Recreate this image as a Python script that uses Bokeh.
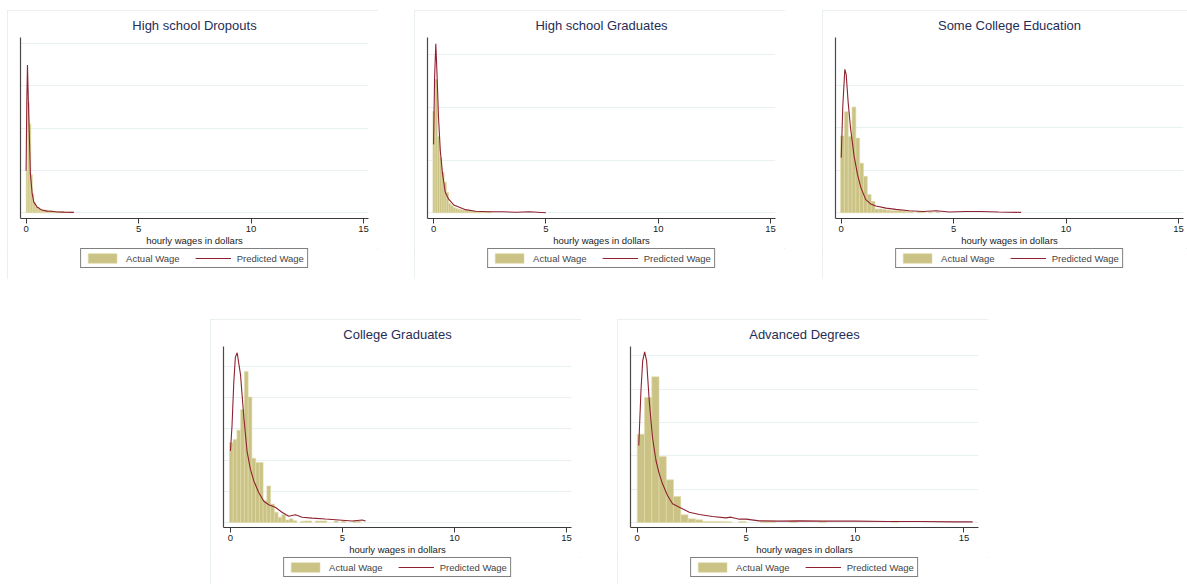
from bokeh.plotting import figure
from bokeh.models import (FixedTicker, Legend, LegendItem, Range1d, Spacer)
from bokeh.layouts import row, column
from bokeh.embed import file_html
from bokeh.resources import INLINE

# ---------------- data (densities) ----------------
titles = ["High school Dropouts", "High school Graduates", "Some College Education",
          "College Graduates", "Advanced Degrees"]
x_ticks = [0, 5, 10, 15]
x_label = "hourly wages in dollars"
legend_labels = ["Actual Wage", "Predicted Wage"]

# histogram: first bin start, bin width, bar heights (density)
dropouts_start, dropouts_width = 0.0, 0.07
dropouts_hist = [2.0, 5.2, 4.2, 1.8, 0.9, 0.5, 0.3, 0.24, 0.2, 0.16, 0.14, 0.14, 0.12, 0.12,
                 0.1, 0.1, 0.1, 0.08, 0.06, 0.06, 0.06, 0.06, 0.06, 0.06,
                 0.04, 0.04, 0.04, 0.04, 0.04, 0.04]
dropouts_kde_x = [0.0, 0.03, 0.06, 0.1, 0.15, 0.19, 0.27, 0.34, 0.45, 0.49, 0.55, 0.64,
                  0.75, 0.93, 1.1, 1.38, 1.7, 2.12]
dropouts_kde_y = [1.98, 5.26, 6.98, 5.26, 3.4, 1.82, 0.9, 0.5, 0.34, 0.26, 0.24, 0.16,
                  0.12, 0.08, 0.07, 0.04, 0.03, 0.02]

hsgrad_start, hsgrad_width = -0.03, 0.1
hsgrad_hist = [1.93, 2.53, 1.45, 1.05, 0.77, 0.58, 0.39, 0.18, 0.14, 0.10, 0.08, 0.07, 0.06,
               0.05, 0.05, 0.04, 0.04, 0.03, 0.03, 0.03, 0.03, 0.02, 0.02, 0.02, 0.02, 0.02]
hsgrad_kde_x = [0.0, 0.045, 0.1, 0.16, 0.22, 0.3, 0.4, 0.52, 0.67, 0.9, 1.12, 1.42, 1.87,
                2.47, 3.07, 3.67, 4.27, 5.0]
hsgrad_kde_y = [1.30, 2.56, 3.21, 2.56, 1.81, 1.18, 0.74, 0.39, 0.26, 0.15, 0.11, 0.06, 0.03,
                0.02, 0.02, 0.01, 0.02, 0.0]

somecol_start, somecol_width = -0.03, 0.17
somecol_hist = [0.905, 1.19, 0.9, 1.245, 0.88, 0.585, 0.43, 0.215, 0.135, 0.045, 0.045,
                0.04, 0.03, 0.025, 0.025, 0.025, 0.02, 0.015, 0.015, 0.0, 0.015, 0.01,
                0.0, 0.01, 0.0, 0.01]
somecol_kde_x = [0.0, 0.07, 0.16, 0.22, 0.31, 0.42, 0.57, 0.72, 0.87, 1.09, 1.31, 1.54,
                 1.99, 2.43, 3.03, 3.63, 4.22, 4.82, 5.5, 6.2, 7.0, 8.0]
somecol_kde_y = [0.65, 1.26, 1.69, 1.63, 1.295, 0.985, 0.67, 0.455, 0.30, 0.155, 0.105,
                 0.08, 0.055, 0.04, 0.025, 0.015, 0.025, 0.01, 0.015, 0.015, 0.01, 0.005]

colgrad_start, colgrad_width = -0.045, 0.167
colgrad_hist = [0.512, 0.532, 0.592, 0.724, 0.968, 0.804, 0.412, 0.384, 0.384, 0.14, 0.234,
                0.118, 0.066, 0.034, 0.05, 0.016, 0.024, 0.012, 0.0, 0.008, 0.01, 0.01, 0.0,
                0.01, 0.01, 0.01, 0.0, 0.0, 0.01, 0.0, 0.01, 0.0, 0.0, 0.01, 0.01]
colgrad_kde_x = [0.0, 0.07, 0.15, 0.22, 0.3, 0.45, 0.6, 0.74, 0.89, 1.04, 1.26, 1.49, 1.71,
                 2.0, 2.3, 2.6, 2.9, 3.2, 3.65, 4.24, 4.84, 5.43, 5.88, 6.03]
colgrad_kde_y = [0.458, 0.62, 0.9, 1.06, 1.088, 0.946, 0.67, 0.458, 0.342, 0.268, 0.192,
                 0.136, 0.114, 0.098, 0.066, 0.04, 0.05, 0.034, 0.028, 0.022, 0.016, 0.01,
                 0.016, 0.01]

advdeg_start, advdeg_width = 0.0, 0.3333
advdeg_hist = [0.53, 0.75, 0.874, 0.396, 0.256, 0.156, 0.046, 0.022, 0.016, 0.006, 0.006,
               0.006, 0.004, 0.0, 0.006, 0.0, 0.0, 0.006, 0.006, 0.0, 0.0, 0.004, 0.0, 0.0,
               0.0, 0.004, 0.0, 0.0, 0.0, 0.0, 0.0, 0.0, 0.0, 0.0, 0.0, 0.004]
advdeg_kde_x = [0.07, 0.17, 0.25, 0.34, 0.43, 0.55, 0.7, 0.86, 1.01, 1.16, 1.39, 1.62, 1.93,
                2.39, 2.85, 3.46, 4.07, 4.3, 4.69, 5.0, 5.6, 6.52, 7.5, 8.5, 10.0, 11.5,
                13.0, 14.5, 15.4]
advdeg_kde_y = [0.462, 0.79, 0.97, 1.024, 0.97, 0.73, 0.51, 0.372, 0.292, 0.232, 0.162,
                0.112, 0.092, 0.062, 0.048, 0.036, 0.028, 0.032, 0.02, 0.02, 0.01, 0.008,
                0.01, 0.008, 0.008, 0.006, 0.006, 0.004, 0.004]

# y gridline values and visible ranges per panel
y_grids = [[0, 2, 4, 6, 8], [0, 1, 2, 3], [0, 0.5, 1.0, 1.5],
           [0, 0.2, 0.4, 0.6, 0.8, 1.0], [0, 0.2, 0.4, 0.6, 0.8, 1.0]]
y_ranges = [(-0.27, 8.28), (-0.108, 3.33), (-0.067, 2.065), (-0.032, 1.128), (-0.03, 1.056)]
x_ranges = [(-0.25, 15.22), (-0.27, 15.22), (-0.255, 15.22), (-0.31, 15.22), (-0.31, 15.67)]

panels = [
    (dropouts_start, dropouts_width, dropouts_hist, dropouts_kde_x, dropouts_kde_y),
    (hsgrad_start, hsgrad_width, hsgrad_hist, hsgrad_kde_x, hsgrad_kde_y),
    (somecol_start, somecol_width, somecol_hist, somecol_kde_x, somecol_kde_y),
    (colgrad_start, colgrad_width, colgrad_hist, colgrad_kde_x, colgrad_kde_y),
    (advdeg_start, advdeg_width, advdeg_hist, advdeg_kde_x, advdeg_kde_y),
]

FONT = "Liberation Sans"
BAR_FILL = "#cbc385"
BAR_LINE = "#e0dbab"
LINE_COLOR = "#8e2230"
GRID_COLOR = "#e9f0f2"
TITLE_COLOR = "#1f2d57"
PANEL_BORDER = {"outline": "1px solid #e3ebee", "outline-offset": "-1px"}

MAIN_H = 238   # title + frame + x axis


def style_bars_line(p, lefts, rights, tops, kx, ky):
    bars = p.quad(left=lefts, right=rights, top=tops, bottom=[0] * len(tops),
                  fill_color=BAR_FILL, line_color=BAR_LINE, line_width=0.6)
    kde = p.line(kx, ky, line_color=LINE_COLOR, line_width=1.1)
    return bars, kde


def make_panel(i, width=371, total_h=269, border_r=10):
    start, bw, hist, kx, ky = panels[i]
    lefts, rights, tops = [], [], []
    for j, h in enumerate(hist):
        if h > 0:
            lefts.append(start + j * bw)
            rights.append(start + (j + 1) * bw)
            tops.append(h)
    p = figure(width=width, height=MAIN_H, output_backend="svg",
               toolbar_location=None, x_range=Range1d(*x_ranges[i]),
               y_range=Range1d(*y_ranges[i]),
               min_border_left=13, min_border_right=border_r,
               min_border_top=26, min_border_bottom=MAIN_H - 26 - 182)
    p.outline_line_color = None
    p.background_fill_color = "white"
    p.border_fill_color = "white"

    p.title.text = titles[i]
    p.title.align = "center"
    p.title.text_font = FONT
    p.title.text_font_size = "13px"
    p.title.text_font_style = "normal"
    p.title.text_color = TITLE_COLOR

    style_bars_line(p, lefts, rights, tops, kx, ky)

    p.xgrid.visible = False
    p.ygrid.ticker = FixedTicker(ticks=y_grids[i])
    p.ygrid.grid_line_color = GRID_COLOR
    p.ygrid.grid_line_width = 1

    xa = p.xaxis[0]
    xa.ticker = FixedTicker(ticks=x_ticks)
    xa.axis_line_color = "#3a3a3a"
    xa.major_tick_line_color = "#3a3a3a"
    xa.major_tick_out = 5
    xa.major_tick_in = 0
    xa.minor_tick_line_color = None
    xa.major_label_text_font = FONT
    xa.major_label_text_font_size = "9.5px"
    xa.major_label_text_color = "#222222"
    xa.major_label_standoff = 2
    xa.axis_label = x_label
    xa.axis_label_text_font = FONT
    xa.axis_label_text_font_size = "9.5px"
    xa.axis_label_text_font_style = "normal"
    xa.axis_label_text_color = "#222222"
    xa.axis_label_standoff = 0

    ya = p.yaxis[0]
    ya.ticker = FixedTicker(ticks=y_grids[i])
    ya.axis_line_color = "#4a4a4a"
    ya.axis_line_width = 1.2
    ya.major_tick_line_color = None
    ya.minor_tick_line_color = None
    ya.major_tick_out = 0
    ya.major_tick_in = 0
    ya.major_label_text_font_size = "1px"
    ya.major_label_text_alpha = 0
    ya.major_label_standoff = 0

    # legend strip below the axis: same series drawn with a range that keeps them out of view,
    # so that the legend can show their swatches
    q = figure(width=width, height=total_h - MAIN_H, output_backend="svg",
               toolbar_location=None, x_axis_location=None, y_axis_location=None,
               min_border=0, x_range=Range1d(1000, 1001), y_range=Range1d(1000, 1001))
    q.outline_line_color = None
    q.grid.visible = False
    q.border_fill_color = "white"
    q.background_fill_color = "white"
    lbars, lkde = style_bars_line(q, lefts, rights, tops, kx, ky)
    legend = Legend(items=[LegendItem(label=legend_labels[0], renderers=[lbars]),
                           LegendItem(label=legend_labels[1], renderers=[lkde])],
                    orientation="horizontal", location="top_center")
    legend.border_line_color = "black"
    legend.border_line_width = 1
    legend.padding = 3
    legend.spacing = 15
    legend.margin = 0
    legend.glyph_width = 36
    legend.glyph_height = 12
    legend.label_standoff = 6
    legend.label_text_font = FONT
    legend.label_text_font_size = "9.5px"
    legend.label_height = 12
    legend.background_fill_color = "white"
    q.add_layout(legend, "center")
    return column(p, q, styles=PANEL_BORDER)


c1 = make_panel(0)
c2 = make_panel(1)
c3 = make_panel(2, width=365, border_r=4)
c4 = make_panel(3, total_h=265)
c5 = make_panel(4, total_h=265)

top_row = row(Spacer(width=7, height=269), c1, Spacer(width=36, height=269), c2,
              Spacer(width=37, height=269), c3)
bottom_row = row(Spacer(width=210, height=265), c4, Spacer(width=36, height=265), c5)
layout = column(Spacer(width=1187, height=10), top_row,
                Spacer(width=1187, height=40), bottom_row)

open("out.html", "w").write(file_html(layout, INLINE))
